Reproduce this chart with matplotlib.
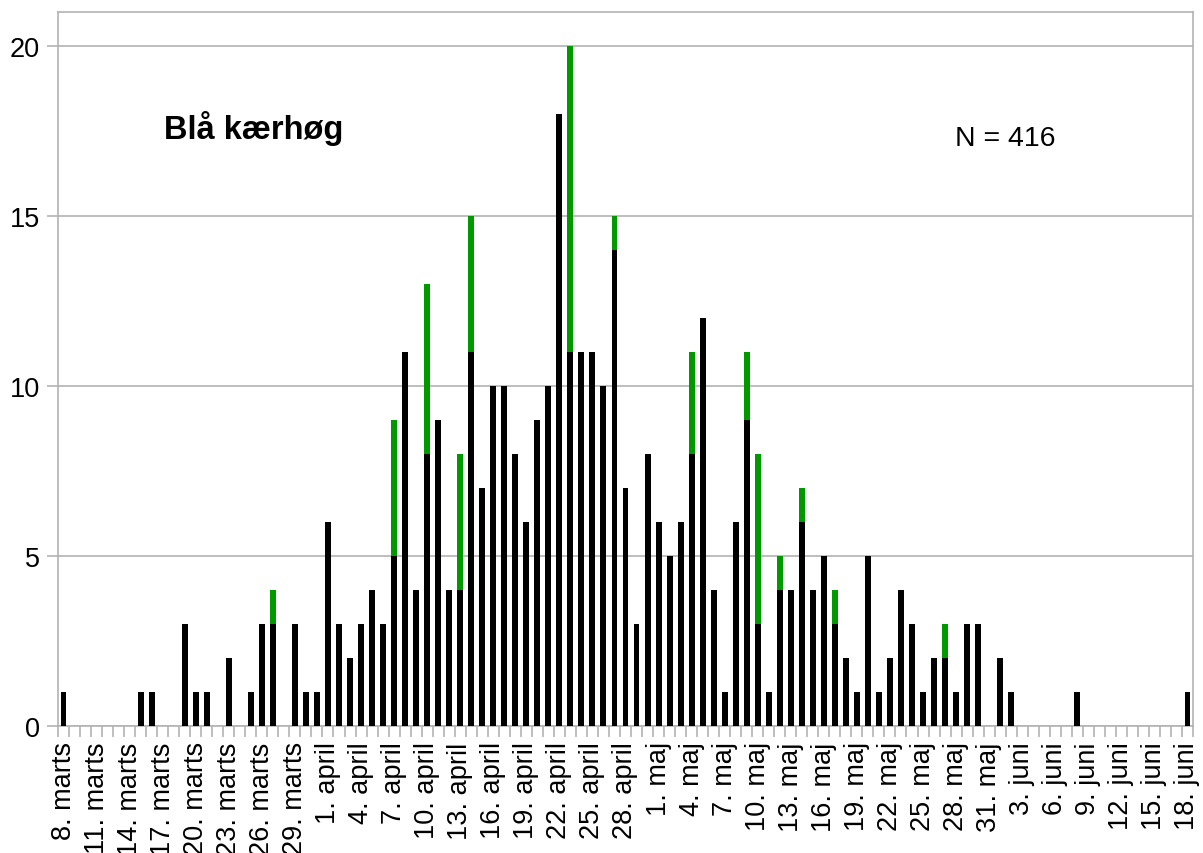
import matplotlib
matplotlib.use("Agg")
import matplotlib.pyplot as plt
import numpy as np
import datetime as dt

plt.rcParams['font.family'] = ['Liberation Sans', 'DejaVu Sans']

# Days from 8 March to 18 June (103 days)
start = dt.date(2001, 3, 8)
n_days = 103
months_da = {3: "marts", 4: "april", 5: "maj", 6: "juni"}
dates = [start + dt.timedelta(days=i) for i in range(n_days)]
labels = [f"{d.day}. {months_da[d.month]}" for d in dates]

# Black part (main count) per day
black = [1, 0, 0, 0, 0, 0, 0, 1, 1, 0,
         0, 3, 1, 1, 0, 2, 0, 1, 3, 3,
         0, 3, 1, 1, 6, 3, 2, 3, 4, 3,
         5, 11, 4, 8, 9, 4, 4, 11, 7, 10,
         10, 8, 6, 9, 10, 18, 11, 11, 11, 10,
         14, 7, 3, 8, 6, 5, 6, 8, 12, 4,
         1, 6, 9, 3, 1, 4, 4, 6, 4, 5,
         3, 2, 1, 5, 1, 2, 4, 3, 1, 2,
         2, 1, 3, 3, 0, 2, 1, 0, 0, 0,
         0, 0, 1, 0, 0, 0, 0, 0, 0, 0,
         0, 0, 1]
# Green part stacked on top
green = [0] * n_days
for idx, val in {19: 1, 30: 4, 33: 5, 36: 4, 37: 4, 46: 9, 50: 1, 57: 3,
                 62: 2, 63: 5, 65: 1, 67: 1, 70: 1, 80: 1}.items():
    green[idx] = val

title_text = "Blå kærhøg"
n_text = "N = 416"

fig = plt.figure(figsize=(12.03, 8.54), dpi=100)
ax = fig.add_axes([58 / 1203, (854 - 727) / 854, (1193 - 58) / 1203, (727 - 13) / 854])

x = np.arange(n_days)
grid_c = "#b3b3b3"
ax.bar(x, black, width=0.54, color="black", zorder=3)
ax.bar(x, green, width=0.54, bottom=black, color="#009900", zorder=3)

ax.set_xlim(-0.5, n_days - 0.5)
ax.set_ylim(0, 21.0)
ax.set_yticks([0, 5, 10, 15, 20])
ax.yaxis.grid(True, color=grid_c, linewidth=1.2, zorder=0)
for s in ax.spines.values():
    s.set_color(grid_c)
    s.set_linewidth(1.2)

ax.set_xticks(x[::3])
ax.set_xticklabels(labels[::3], rotation=90, ha="center", va="top")
ax.set_xticks(np.arange(-0.5, n_days, 1.0), minor=True)
ax.tick_params(axis="x", which="major", length=0, pad=11, labelsize=19.5)
ax.tick_params(axis="x", which="minor", length=7.9, color=grid_c, width=1.2)
ax.tick_params(axis="y", length=7.9, color=grid_c, width=1.2, pad=5, labelsize=19.5)

fig.text(164 / 1203, 1 - 129 / 854, title_text, fontsize=23.5, fontweight="bold",
         ha="left", va="center")
fig.text(955 / 1203, 1 - 139 / 854, n_text, fontsize=20.5, ha="left", va="center")

fig.savefig("out.png", dpi=100)
